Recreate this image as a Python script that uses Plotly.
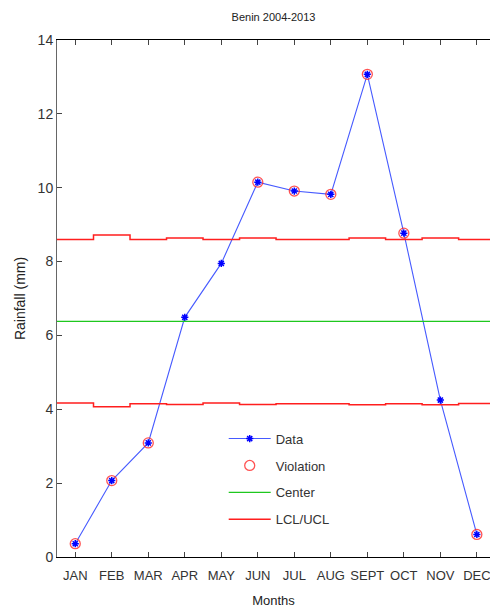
import plotly.graph_objects as go

months = ["JAN", "FEB", "MAR", "APR", "MAY", "JUN", "JUL", "AUG", "SEPT", "OCT", "NOV", "DEC"]
rainfall = [0.36, 2.07, 3.09, 6.49, 7.95, 10.15, 9.91, 9.82, 13.07, 8.77, 4.25, 0.61]
center = 6.38
ucl = [8.60, 8.72, 8.60, 8.64, 8.60, 8.64, 8.60, 8.60, 8.64, 8.60, 8.64, 8.60]
lcl = [4.17, 4.07, 4.15, 4.13, 4.17, 4.13, 4.15, 4.15, 4.12, 4.15, 4.12, 4.16]
y_ticks = [0, 2, 4, 6, 8, 10, 12, 14]

xi = list(range(1, len(months) + 1))
viol_x = [x for x, v, u, l in zip(xi, rainfall, ucl, lcl) if v > u or v < l]
viol_y = [v for v, u, l in zip(rainfall, ucl, lcl) if v > u or v < l]

x_ext = [0.5] + xi + [12.5]
ucl_ext = [ucl[0]] + ucl + [ucl[-1]]
lcl_ext = [lcl[0]] + lcl + [lcl[-1]]

font = "Liberation Sans Narrow, Arial Narrow, Liberation Sans, Arial, sans-serif"

fig = go.Figure()
fig.add_trace(go.Scatter(
    x=xi, y=rainfall, mode="lines+markers", name="Data", legendgroup="a",
    line=dict(color="rgb(70,90,255)", width=1.1),
    marker=dict(symbol="asterisk-open", size=6, color="blue", line=dict(color="blue", width=1.5)),
))
fig.add_trace(go.Scatter(
    x=viol_x, y=viol_y, mode="markers", name="Violation", legendgroup="b",
    marker=dict(symbol="circle-open", size=10, color="rgba(255,40,40,0.8)", line=dict(width=1.3)),
))
fig.add_trace(go.Scatter(
    x=[0.5, 12.5], y=[center, center], mode="lines", name="Center", legendgroup="c",
    line=dict(color="rgb(30,200,30)", width=1.3),
))
fig.add_trace(go.Scatter(
    x=x_ext, y=ucl_ext, mode="lines", name="LCL/UCL", legendgroup="d",
    line=dict(color="rgb(255,30,30)", width=1.5, shape="hvh"),
))
fig.add_trace(go.Scatter(
    x=x_ext, y=lcl_ext, mode="lines", name="LCL", legendgroup="d", showlegend=False,
    line=dict(color="rgb(255,30,30)", width=1.5, shape="hvh"),
))

fig.update_layout(
    width=490, height=614,
    margin=dict(l=57, r=0, t=40, b=57),
    paper_bgcolor="white", plot_bgcolor="white",
    font=dict(family=font, size=13, color="#222"),
    title=dict(text="Benin 2004-2013", x=0.5, xref="paper", y=0.972, yanchor="middle",
               font=dict(family=font, size=11, color="#222")),
    showlegend=True,
    legend=dict(x=0.385, y=0.258, xanchor="left", yanchor="top", bgcolor="rgba(0,0,0,0)",
                font=dict(family=font, size=13, color="#333"), tracegroupgap=7,
                traceorder="grouped", itemwidth=42),
    xaxis=dict(
        range=[0.5, 12.36], tickmode="array", tickvals=xi, ticktext=months,
        showgrid=False, zeroline=False, showline=True, linecolor="black", linewidth=1,
        mirror="ticks", ticks="inside", ticklen=5, tickcolor="#444",
        ticklabeloverflow="allow", ticklabelstandoff=6,
        title=dict(text="Months", font=dict(family=font, size=13), standoff=14),
        tickfont=dict(family=font, size=13, color="#333"),
    ),
    yaxis=dict(
        range=[0, 14], tickmode="array", tickvals=y_ticks,
        showgrid=False, zeroline=False, showline=True, linecolor="#666", linewidth=1,
        ticks="inside", ticklen=5, tickcolor="#444",
        title=dict(text="Rainfall (mm)", font=dict(family="Liberation Sans, Arial, sans-serif", size=14), standoff=8),
        tickfont=dict(family=font, size=14, color="#333"),
    ),
)

fig.write_html("out.html")
